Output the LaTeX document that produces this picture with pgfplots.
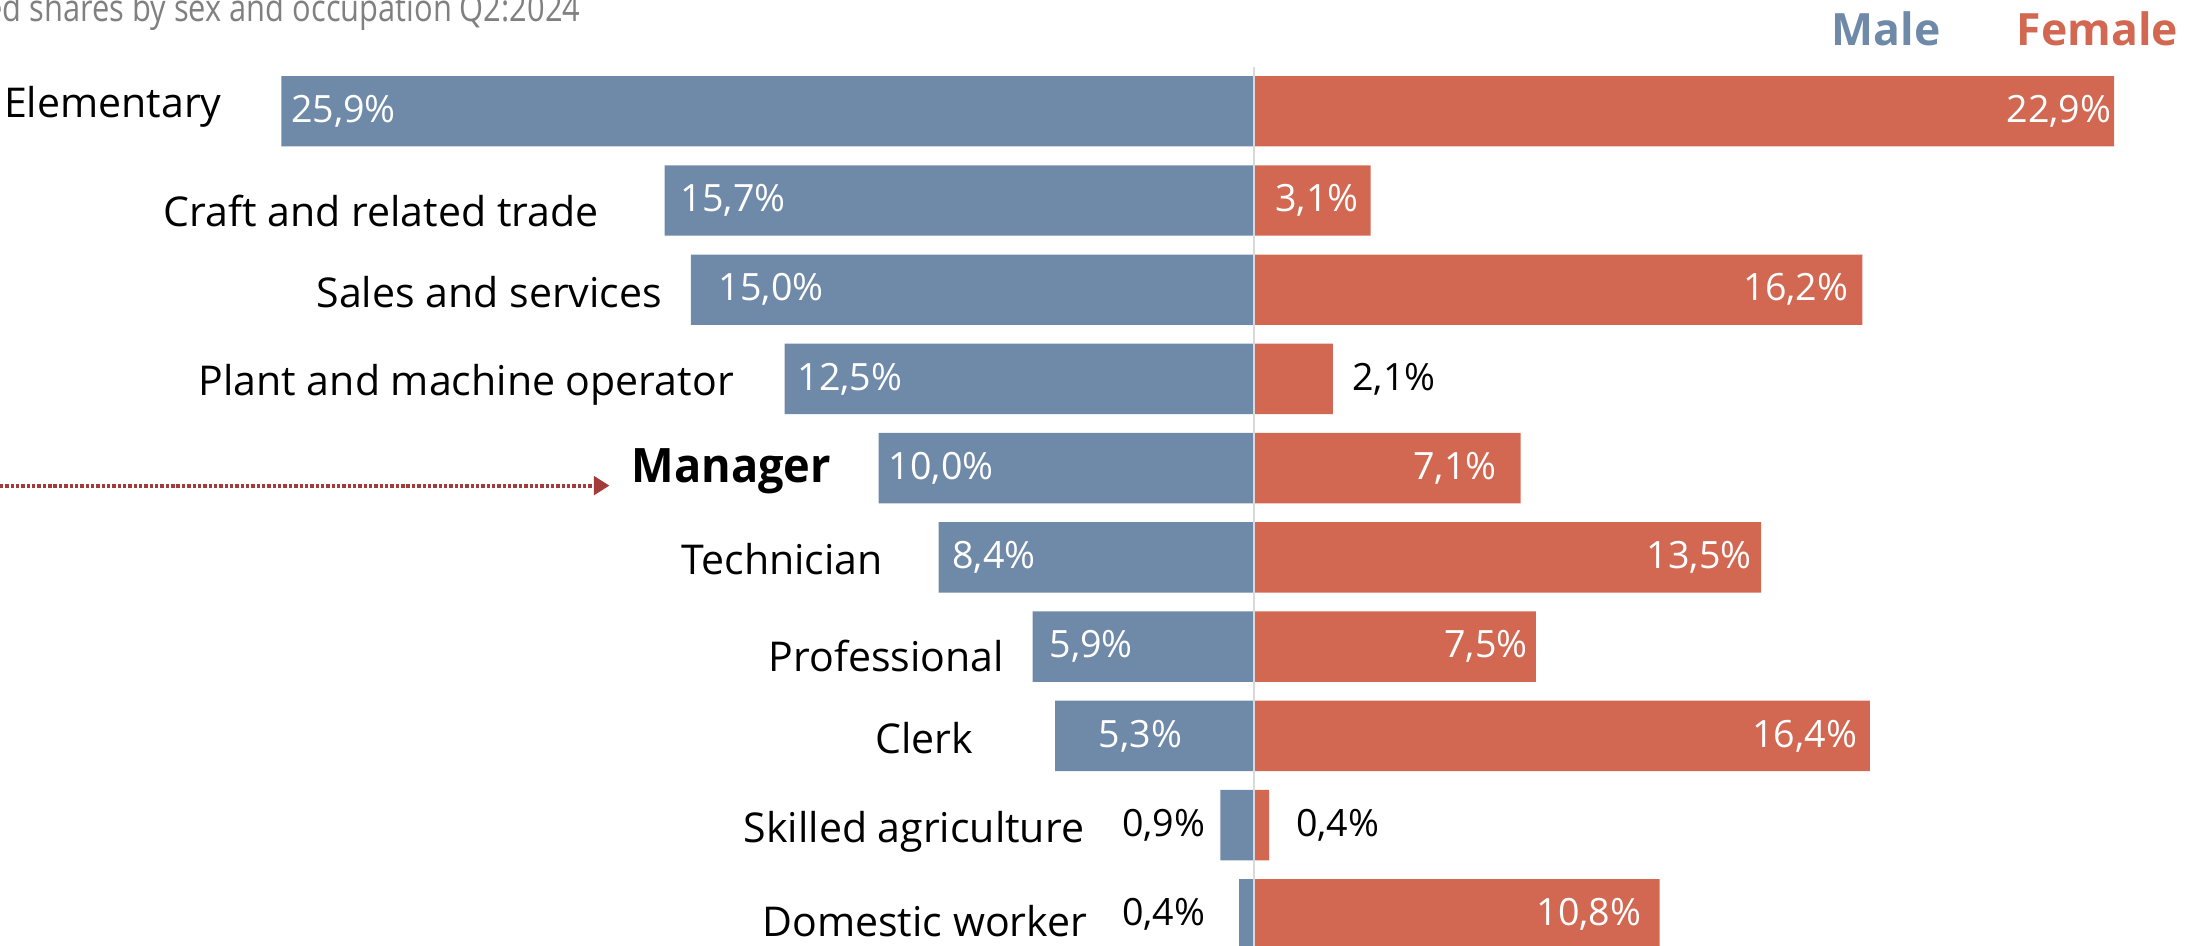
\documentclass[border=0pt]{standalone}
\usepackage{fontspec}
\setmainfont{Open Sans}
\newfontfamily\condfont{Open Sans}[FakeStretch=0.95]
\newfontfamily\titlefont{Open Sans}[FakeStretch=0.82]
\usepackage{pgfplots}
\pgfplotsset{compat=1.18}
\usepackage{pgfplotstable}
\usetikzlibrary{arrows.meta}
\definecolor{male}{HTML}{6F89A8}
\definecolor{female}{HTML}{D26852}
\definecolor{arrowred}{HTML}{A33B3B}
\definecolor{titlegray}{HTML}{808080}

\pgfplotstableread[col sep=comma]{
y,male,female
0,-25.9,22.9
1,-15.7,3.1
2,-15.0,16.2
3,-12.5,2.1
4,-10.0,7.1
5,-8.4,13.5
6,-5.9,7.5
7,-5.3,16.4
8,-0.9,0.4
9,-0.4,10.8
}\bars

\pgfplotstableread[col sep=comma]{
x,y,name
-27.47,-0.05,Elementary
-17.43,1.12,Craft and related trade
-15.74,2.03,Sales and services
-13.83,3.07,Plant and machine operator
-9.86,5.02,Technician
-6.63,6.11,Professional
-7.46,7.02,Clerk
-4.50,8.08,Skilled agriculture
-4.42,9.07,Domestic worker
}\cats

\pgfplotstableread{
x y lab
-25.67 0 25,9
-15.29 1 15,7
-14.28 2 15,0
-12.18 3 12,5
-9.75 4 10,0
-8.06 5 8,4
-5.47 6 5,9
-4.16 7 5,3
}\maleIn

\pgfplotstableread{
x y lab
-1.27 8 0,9
-1.27 9 0,4
}\maleOut

\pgfplotstableread{
x y lab
22.85 0 22,9
2.81 1 3,1
15.85 2 16,2
6.48 4 7,1
13.27 5 13,5
7.31 6 7,5
16.08 7 16,4
10.34 9 10,8
}\femIn

\pgfplotstableread{
x y lab
2.59 3 2,1
1.09 8 0,4
}\femOut

\begin{document}
\begin{tikzpicture}
\useasboundingbox (-89.1mm,-59.3mm) rectangle (67.7mm,7.9mm);
\clip (-89.1mm,-59.3mm) rectangle (67.7mm,7.9mm);
\begin{axis}[
  anchor=origin, at={(0,0)},
  x=2.668mm, y=6.34mm, y dir=reverse,
  xmin=-34, xmax=26, ymin=-1, ymax=10,
  hide axis, clip=false,
  every node near coord/.append style={inner sep=0pt, font=\fontsize{7.6pt}{9pt}\selectfont},
]
\addplot[xbar, bar shift=0pt, bar width=5mm, fill=male, draw=none] table[x=male, y=y]{\bars};
\addplot[xbar, bar shift=0pt, bar width=5mm, fill=female, draw=none] table[x=female, y=y]{\bars};
\draw[black!15, line width=0.15mm] (axis cs:0,-0.49) -- (axis cs:0,9.6);

\addplot[only marks, mark=none, point meta=explicit symbolic,
  nodes near coords={\pgfplotspointmeta\%},
  nodes near coords style={anchor=west, text=white}] table[x=x, y=y, meta=lab]{\maleIn};
\addplot[only marks, mark=none, point meta=explicit symbolic,
  nodes near coords={\pgfplotspointmeta\%},
  nodes near coords style={anchor=east, text=black}] table[x=x, y=y, meta=lab]{\maleOut};
\addplot[only marks, mark=none, point meta=explicit symbolic,
  nodes near coords={\pgfplotspointmeta\%},
  nodes near coords style={anchor=east, text=white}] table[x=x, y=y, meta=lab]{\femIn};
\addplot[only marks, mark=none, point meta=explicit symbolic,
  nodes near coords={\pgfplotspointmeta\%},
  nodes near coords style={anchor=west, text=black}] table[x=x, y=y, meta=lab]{\femOut};

\addplot[only marks, mark=none, point meta=explicit symbolic,
  nodes near coords={\pgfplotspointmeta},
  nodes near coords style={anchor=east, text=black, font=\fontsize{8.3pt}{10pt}\selectfont}] table[x=x, y=y, meta=name]{\cats};

\node[anchor=east, inner sep=0pt, font=\condfont\bfseries\fontsize{9.6pt}{11pt}\selectfont] at (axis cs:-11.24,4.03) {Manager};
\end{axis}
\node[anchor=base east, inner sep=0pt, text=titlegray, font=\titlefont\fontsize{7.6pt}{9pt}\selectfont] at (-47.8mm,6.4mm) {Employed shares by sex and occupation Q2:2024};
\node[anchor=base, inner sep=0pt, text=male, font=\bfseries\fontsize{9pt}{11pt}\selectfont] at (44.9mm,4.7mm) {Male};
\node[anchor=base east, inner sep=0pt, text=female, font=\bfseries\fontsize{9pt}{11pt}\selectfont] at (65.7mm,4.7mm) {Female};
\draw[arrowred, line width=0.3mm, dash pattern=on 0.24mm off 0.14mm, -{Triangle[length=1.1mm,width=1.3mm]}] (-89.1mm,-26.6mm) -- (-45.8mm,-26.6mm);
\end{tikzpicture}
\end{document}
